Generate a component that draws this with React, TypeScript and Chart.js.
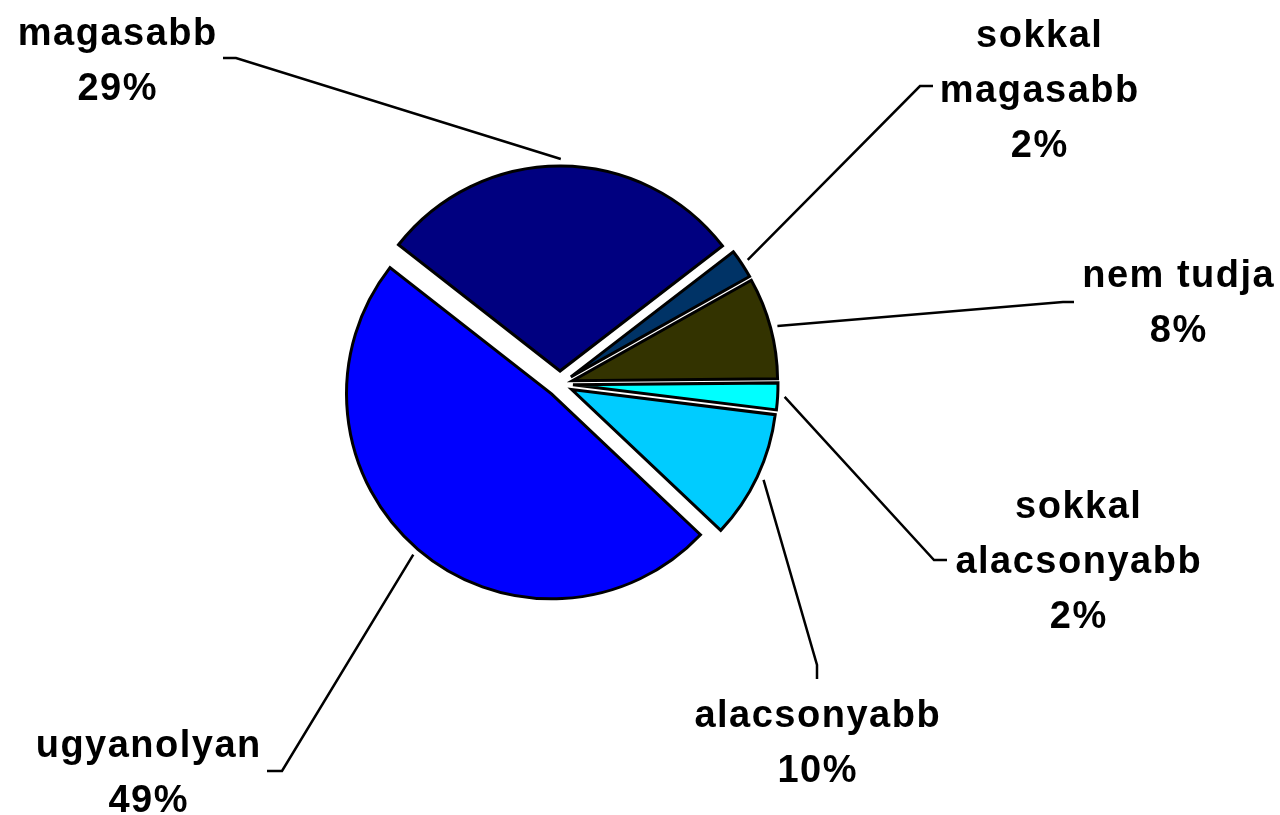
import React, { useEffect, useRef } from "react";
import { Chart, registerables } from "chart.js";

Chart.register(...registerables);

// ---- data ----
const categories = [
  "magasabb",
  "sokkal magasabb",
  "nem tudja",
  "sokkal alacsonyabb",
  "alacsonyabb",
  "ugyanolyan",
];
const values = [29, 2.3, 8, 2.1, 10.1, 48.5];
const percentLabels = ["29%", "2%", "8%", "2%", "10%", "49%"];
const nameLines = [
  ["magasabb"],
  ["sokkal", "magasabb"],
  ["nem tudja"],
  ["sokkal", "alacsonyabb"],
  ["alacsonyabb"],
  ["ugyanolyan"],
];
const colors = ["#000080", "#003366", "#333300", "#00FFFF", "#00CCFF", "#0000FF"];

// ---- label layout (positions of text blocks and leader-line elbows) ----
const labelCenterX = [117, 1039, 1178, 1078, 817, 148];
const labelFirstBaseline = [45, 47, 287, 518, 727, 757];
const elbowPoints: [number, number][] = [
  [236, 58],
  [920, 86],
  [1063, 302],
  [934, 560],
  [817, 665],
  [282, 771],
];
const tickEnds: [number, number][] = [
  [223, 58],
  [933, 86],
  [1074, 302],
  [947, 560],
  [817, 679],
  [267, 771],
];

const EXPLODE = 13;
const LEADER_GAP = 7;
const LINE_HEIGHT = 55;
const FONT = 'bold 38px "Liberation Sans", Arial, sans-serif';

const explodePlugin = {
  id: "explode",
  afterDatasetUpdate(chart: any, args: any) {
    const meta = chart.getDatasetMeta(args.index);
    meta.data.forEach((arc: any) => {
      const mid = (arc.startAngle + arc.endAngle) / 2;
      arc.x += Math.cos(mid) * EXPLODE;
      arc.y += Math.sin(mid) * EXPLODE;
    });
  },
};

const labelPlugin = {
  id: "outerLabels",
  afterDraw(chart: any) {
    const ctx = chart.ctx;
    const meta = chart.getDatasetMeta(0);
    ctx.save();
    ctx.strokeStyle = "#000";
    ctx.lineWidth = 2.5;
    ctx.lineJoin = "miter";
    meta.data.forEach((arc: any, i: number) => {
      const mid = (arc.startAngle + arc.endAngle) / 2;
      const r = arc.outerRadius + LEADER_GAP;
      const sx = arc.x + Math.cos(mid) * r;
      const sy = arc.y + Math.sin(mid) * r;
      ctx.beginPath();
      ctx.moveTo(sx, sy);
      ctx.lineTo(elbowPoints[i][0], elbowPoints[i][1]);
      ctx.lineTo(tickEnds[i][0], tickEnds[i][1]);
      ctx.stroke();
    });
    ctx.fillStyle = "#000";
    ctx.font = FONT;
    ctx.textAlign = "center";
    ctx.textBaseline = "alphabetic";
    try {
      (ctx as any).letterSpacing = "1.5px";
    } catch (e) {}
    categories.forEach((_, i) => {
      const lines = [...nameLines[i], percentLabels[i]];
      lines.forEach((t, j) => {
        ctx.fillText(t, labelCenterX[i] + 0.75, labelFirstBaseline[i] + j * LINE_HEIGHT);
      });
    });
    ctx.restore();
  },
};

export default function App() {
  const ref = useRef<HTMLCanvasElement>(null);
  useEffect(() => {
    if (!ref.current) return;
    const chart = new Chart(ref.current, {
      type: "pie",
      data: {
        labels: categories,
        datasets: [
          {
            data: values,
            backgroundColor: colors,
            borderColor: "#000",
            borderWidth: 3,
            borderJoinStyle: "miter",
          } as any,
        ],
      },
      options: {
        responsive: false,
        animation: false,
        devicePixelRatio: 1,
        rotation: -52,
        radius: 205,
        layout: { padding: { left: 0, right: 160, top: 0, bottom: 47 } },
        plugins: {
          legend: { display: false },
          tooltip: { enabled: false },
        },
        events: [],
      } as any,
      plugins: [explodePlugin, labelPlugin],
    });
    return () => chart.destroy();
  }, []);
  return (
    <div style={{ position: "fixed", left: 0, top: 0, width: 1280, height: 815, background: "#fff" }}>
      <canvas ref={ref} width={1280} height={815} style={{ width: 1280, height: 815 }} />
    </div>
  );
}
